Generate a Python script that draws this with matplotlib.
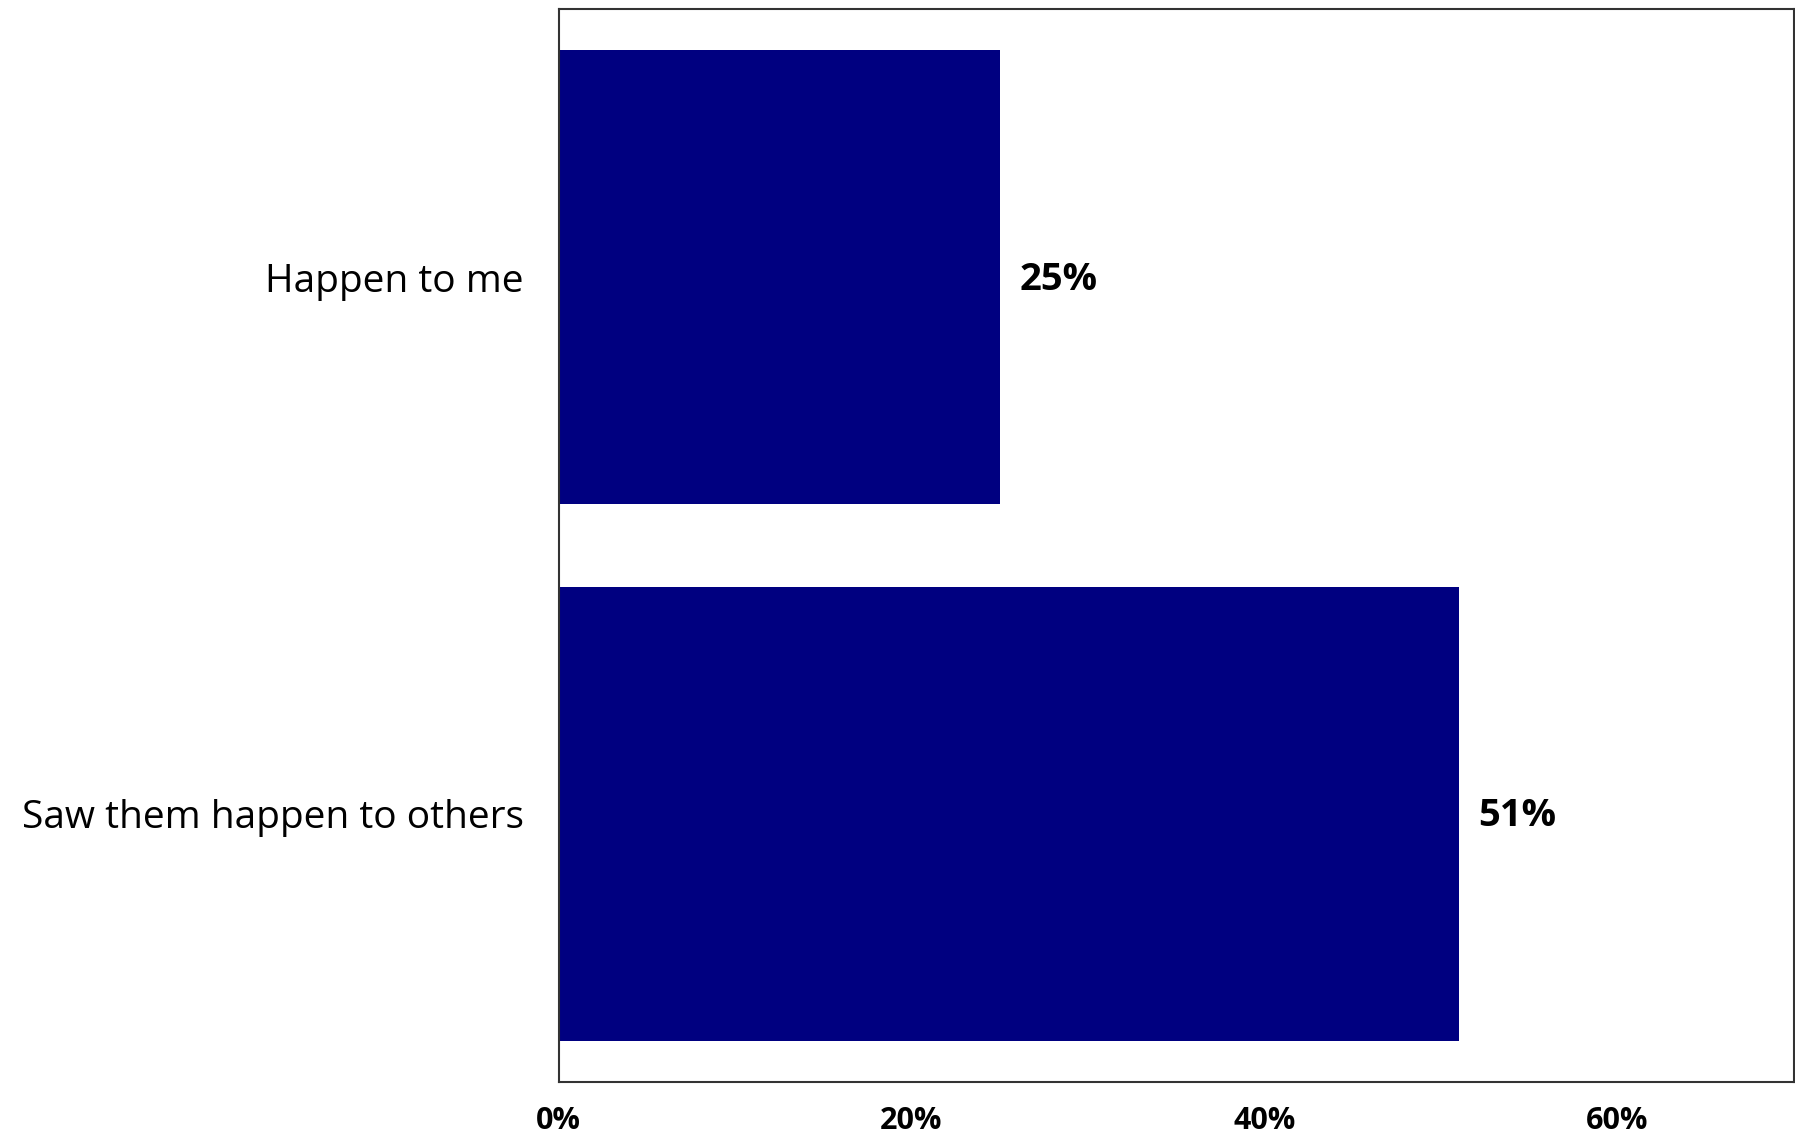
import matplotlib.pyplot as plt
from matplotlib.ticker import FuncFormatter

# Chart data
categories = ['Happen to me', 'Saw them happen to others']
values = [0.25, 0.51]
xticks = [0, 0.2, 0.4, 0.6]

fig = plt.figure(figsize=(17.95, 11.37), dpi=100)
ax = fig.add_axes([0.3112, 0.0484, 0.6882, 0.9436])

ypos = list(range(len(categories)))
bars = ax.barh(ypos, values, height=0.846, color='#000080')

ax.set_xlim(0, 0.7)
ax.set_ylim(1.5, -0.5)
ax.set_yticks(ypos)
ax.set_yticklabels(categories, fontsize=28, family='Open Sans')
ax.set_xticks(xticks)
ax.xaxis.set_major_formatter(FuncFormatter(lambda v, _: f'{v*100:.0f}%'))
for lab in ax.get_xticklabels():
    lab.set_fontsize(22)
    lab.set_fontweight('bold')
    lab.set_family(['Liberation Sans Narrow', 'Open Sans'])
ax.tick_params(axis='y', length=0, pad=25)
ax.tick_params(axis='x', length=0, pad=17)

for s in ax.spines.values():
    s.set_color('#333333')
    s.set_linewidth(1.5)

# value labels
for b, v in zip(bars, values):
    ax.text(v + 0.011, b.get_y() + b.get_height() / 2 + 0.005, f'{v*100:.0f}%',
            va='center', ha='left', fontsize=27.5, fontweight='bold', family='Open Sans')

fig.savefig('out.png', dpi=100)
